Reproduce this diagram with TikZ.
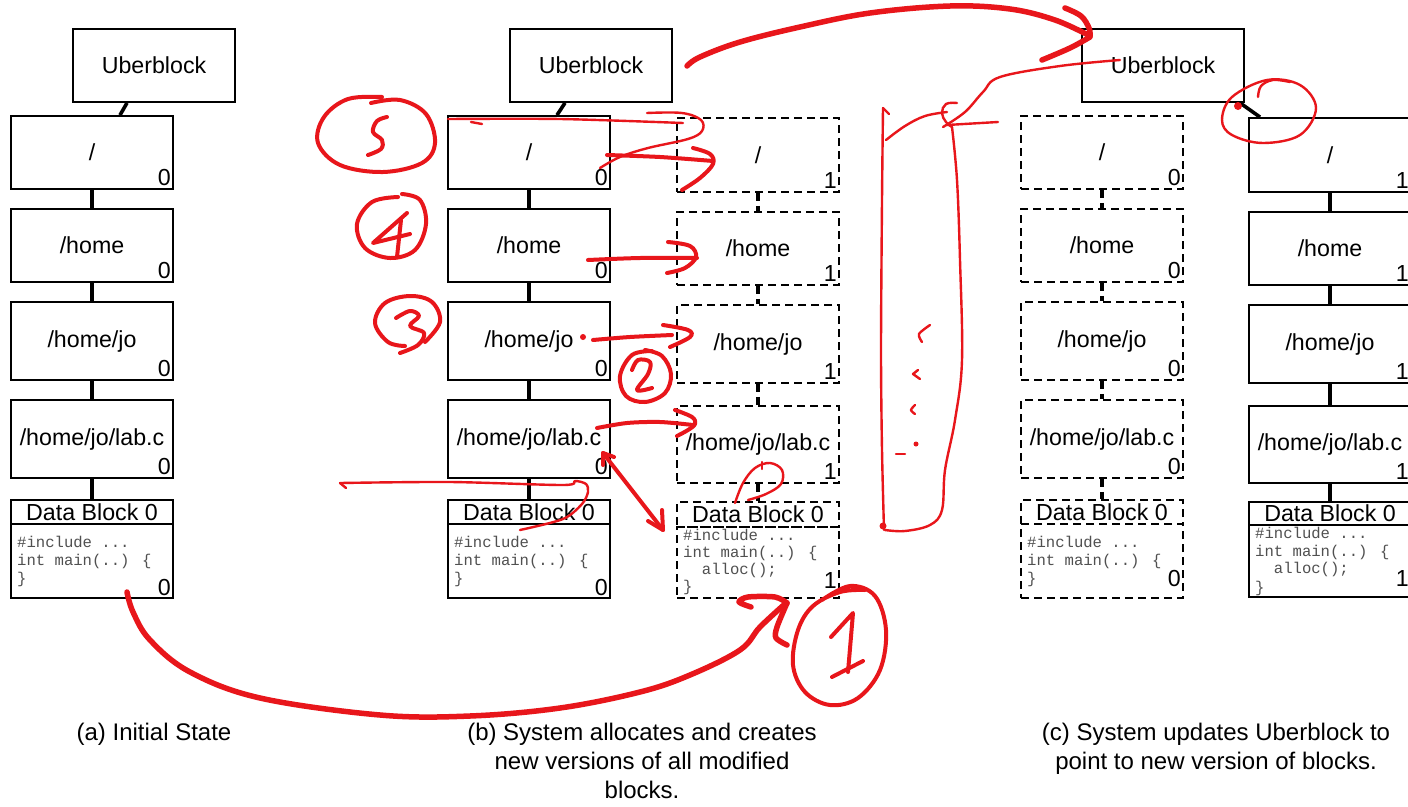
\documentclass[tikz,border=0pt]{standalone}
\usepackage{fontspec}
\setmainfont{Liberation Sans}
\newfontfamily\codefont{Liberation Mono}
\definecolor{penred}{HTML}{E8161B}
\definecolor{codegray}{HTML}{505050}
\tikzset{
 blk/.style={draw, line width=1.8pt, minimum width=162pt, inner sep=0pt, font=\fontsize{23.2}{27}\selectfont},
 dblk/.style={blk, dash pattern=on 8pt off 5pt},
 num/.style={anchor=south east, inner sep=0pt, font=\fontsize{23.2}{27}\selectfont},
 codeln/.style={anchor=base west, inner sep=0pt, text=codegray, font=\codefont\fontsize{15.6}{18}\selectfont},
 link/.style={line width=3.6pt},
 dlink/.style={link, dash pattern=on 8pt off 5pt},
 captxt/.style={anchor=base, inner sep=0pt, font=\fontsize{24}{29}\selectfont},
 pen/.style={draw=penred, line width=2.4pt, line cap=round, line join=round},
 penM/.style={pen, line width=4pt},
 penT/.style={pen, line width=5.5pt},
}
\begin{document}
\begin{tikzpicture}[x=1pt,y=-1pt]
\useasboundingbox (0,0) rectangle (1408,806);
\fill[white] (0,0) rectangle (1408,806);

% ---------- column (a)
\node[blk, minimum height=73pt] (aU) at (154,65.5) {Uberblock};
\node[blk, minimum height=73pt] (a1) at (92,152.5) {/};
\node[blk, minimum height=73pt] (a2) at (92,245.5) {/home};
\node[blk, minimum height=78pt] (a3) at (92,341) {/home/jo};
\node[blk, minimum height=78pt] (a4) at (92,439) {/home/jo/lab.c};
\node[blk, minimum height=24pt] (a5) at (92,512) {Data Block 0};
\node[blk, minimum height=74pt] (a6) at (92,561) {};
\node[num] at ([xshift=-3pt,yshift=4pt]a1.south east) {0};
\node[num] at ([xshift=-3pt,yshift=4pt]a2.south east) {0};
\node[num] at ([xshift=-3pt,yshift=4pt]a3.south east) {0};
\node[num] at ([xshift=-3pt,yshift=4pt]a4.south east) {0};
\node[num] at ([xshift=-3pt,yshift=3pt]a6.south east) {0};
\node[codeln] at (17,547) {\#include ...};
\node[codeln] at (17,565) {int main(..) \{};
\node[codeln] at (17,583) {\}};
\draw[link] ([xshift=-27pt]aU.south) -- ([xshift=28pt]a1.north);
\draw[link] (a1.south) -- (a2.north);
\draw[link] (a2.south) -- (a3.north);
\draw[link] (a3.south) -- (a4.north);
\draw[link] (a4.south) -- (a5.north);

% ---------- column (b)
\node[blk, minimum height=73pt] (bU) at (591,65.5) {Uberblock};
\node[blk, minimum height=73pt] (b1) at (529,152.5) {/};
\node[blk, minimum height=73pt] (b2) at (529,245.5) {/home};
\node[blk, minimum height=78pt] (b3) at (529,341) {/home/jo};
\node[blk, minimum height=78pt] (b4) at (529,439) {/home/jo/lab.c};
\node[blk, minimum height=24pt] (b5) at (529,512) {Data Block 0};
\node[blk, minimum height=74pt] (b6) at (529,561) {};
\node[num] at ([xshift=-3pt,yshift=4pt]b1.south east) {0};
\node[num] at ([xshift=-3pt,yshift=4pt]b2.south east) {0};
\node[num] at ([xshift=-3pt,yshift=4pt]b3.south east) {0};
\node[num] at ([xshift=-3pt,yshift=4pt]b4.south east) {0};
\node[num] at ([xshift=-3pt,yshift=3pt]b6.south east) {0};
\node[codeln] at (454,547) {\#include ...};
\node[codeln] at (454,565) {int main(..) \{};
\node[codeln] at (454,583) {\}};
\draw[link] ([xshift=-26pt]bU.south) -- ([xshift=28pt]b1.north);
\draw[link] (b1.south) -- (b2.north);
\draw[link] (b2.south) -- (b3.north);
\draw[link] (b3.south) -- (b4.north);
\draw[link] (b4.south) -- (b5.north);

% ---------- column (b') new versions, dashed
\node[dblk, minimum height=74pt] (p1) at (758,155) {/};
\node[dblk, minimum height=73pt] (p2) at (758,248.5) {/home};
\node[dblk, minimum height=78pt] (p3) at (758,344) {/home/jo};
\node[dblk, minimum height=77pt] (p4) at (758,444.5) {/home/jo/lab.c};
\node[dblk, minimum height=25pt] (p5) at (758,514.5) {Data Block 0};
\node[dblk, minimum height=71pt] (p6) at (758,562.5) {};
\node[num] at ([xshift=-3pt,yshift=4pt]p1.south east) {1};
\node[num] at ([xshift=-3pt,yshift=4pt]p2.south east) {1};
\node[num] at ([xshift=-3pt,yshift=4pt]p3.south east) {1};
\node[num] at ([xshift=-3pt,yshift=4pt]p4.south east) {1};
\node[num] at ([xshift=-3pt,yshift=10pt]p6.south east) {1};
\node[codeln] at (683,540) {\#include ...};
\node[codeln] at (683,557) {int main(..) \{};
\node[codeln] at (683,574) {\hphantom{aa}alloc();};
\node[codeln] at (683,591) {\}};
\draw[dlink] (p1.south) -- (p2.north);
\draw[dlink] (p2.south) -- (p3.north);
\draw[dlink] (p3.south) -- (p4.north);
\draw[dlink] (p4.south) -- (p5.north);

% ---------- column (c) old versions, dashed
\node[blk, minimum height=73pt] (cU) at (1163,65.5) {Uberblock};
\node[dblk, minimum height=73pt] (c1) at (1102,152.5) {/};
\node[dblk, minimum height=73pt] (c2) at (1102,245.5) {/home};
\node[dblk, minimum height=78pt] (c3) at (1102,341) {/home/jo};
\node[dblk, minimum height=78pt] (c4) at (1102,439) {/home/jo/lab.c};
\node[dblk, minimum height=24pt] (c5) at (1102,512) {Data Block 0};
\node[dblk, minimum height=74pt] (c6) at (1102,561) {};
\node[num] at ([xshift=-3pt,yshift=4pt]c1.south east) {0};
\node[num] at ([xshift=-3pt,yshift=4pt]c2.south east) {0};
\node[num] at ([xshift=-3pt,yshift=4pt]c3.south east) {0};
\node[num] at ([xshift=-3pt,yshift=4pt]c4.south east) {0};
\node[num] at ([xshift=-3pt,yshift=12pt]c6.south east) {0};
\node[codeln] at (1027,547) {\#include ...};
\node[codeln] at (1027,565) {int main(..) \{};
\node[codeln] at (1027,583) {\}};
\draw[dlink] (c1.south) -- (c2.north);
\draw[dlink] (c2.south) -- (c3.north);
\draw[dlink] (c3.south) -- (c4.north);
\draw[dlink] (c4.south) -- (c5.north);

% ---------- column (d) new tree, solid
\node[blk, minimum height=74pt] (d1) at (1330,155) {/};
\node[blk, minimum height=73pt] (d2) at (1330,248.5) {/home};
\node[blk, minimum height=78pt] (d3) at (1330,344) {/home/jo};
\node[blk, minimum height=77pt] (d4) at (1330,444.5) {/home/jo/lab.c};
\node[blk, minimum height=23pt] (d5) at (1330,513.5) {Data Block 0};
\node[blk, minimum height=72pt] (d6) at (1330,561) {};
\node[num] at ([xshift=-3pt,yshift=4pt]d1.south east) {1};
\node[num] at ([xshift=-3pt,yshift=4pt]d2.south east) {1};
\node[num] at ([xshift=-3pt,yshift=4pt]d3.south east) {1};
\node[num] at ([xshift=-3pt,yshift=4pt]d4.south east) {1};
\node[num] at ([xshift=-3pt,yshift=11pt]d6.south east) {1};
\node[codeln] at (1255,538) {\#include ...};
\node[codeln] at (1255,556) {int main(..) \{};
\node[codeln] at (1255,573) {\hphantom{aa}alloc();};
\node[codeln] at (1255,592) {\}};
\draw[link] ([xshift=77pt]cU.south) -- ([xshift=-70pt]d1.north);
\draw[link] (d1.south) -- (d2.north);
\draw[link] (d2.south) -- (d3.north);
\draw[link] (d3.south) -- (d4.north);
\draw[link] (d4.south) -- (d5.north);

% ---------- captions
\node[captxt] (capa) at (154,740) {(a) Initial State};
\node[captxt] (capb1) at (642,740) {(b) System allocates and creates};
\node[captxt] (capb2) at (642,769) {new versions of all modified};
\node[captxt] (capb3) at (642,798) {blocks.};
\node[captxt] (capc1) at (1216,740) {(c) System updates Uberblock to};
\node[captxt] (capc2) at (1216,769) {point to new version of blocks.};

% ---------- red hand annotations
% bottom big arrow
\draw[penT] plot[smooth,tension=0.6] coordinates {(127,592)(133,612)(150,640)(190,672)(260,698)(380,715)(470,716)(560,708)(640,692)(690,675)(740,650)(760,627)(786,603)};
\draw[penT] plot[smooth] coordinates {(751,607)(739,602)(748,597)(775,597)(787,603)};
\draw[penT] plot[smooth] coordinates {(787,603)(777,627)(776,638)(787,645)};
% circle 1
\draw[penM] plot[smooth,tension=0.6] coordinates {(822,600)(850,586)(875,596)(886,630)(880,670)(858,698)(830,705)(805,692)(793,665)(798,630)(813,606)(840,592)(865,590)};
\draw[penM] (831,637) -- (853,613) -- (848,672);
\draw[penM] (832,677) -- (863,661);
% circle 2
\draw[penM] plot[smooth,tension=0.6] coordinates {(652,351)(632,355)(620,376)(626,396)(645,402)(665,393)(671,374)(662,356)(645,350)};
\draw[penM] plot[smooth,tension=0.6] coordinates {(632,370)(638,360)(650,362)(648,374)(637,390)(652,388)};
% circle 3
\draw[penM] plot[smooth,tension=0.6] coordinates {(425,342)(440,322)(432,302)(410,296)(385,303)(375,323)(388,342)(405,346)};
\draw[penM] plot[smooth,tension=0.6] coordinates {(396,318)(410,311)(419,316)(410,326)(424,333)(418,345)(400,353)};
% circle 4
\draw[penM] plot[smooth,tension=0.6] coordinates {(398,197)(372,202)(357,224)(365,248)(390,258)(415,250)(426,224)(420,200)(402,194)};
\draw[penM] (407,213) -- (373,243) -- (410,234);
\draw[penM] (401,220) -- (397,257);
% circle 5
\draw[penM] plot[smooth,tension=0.6] coordinates {(382,97)(348,99)(324,117)(318,143)(340,165)(383,172)(422,163)(435,143)(426,114)(400,100)(371,103)};
\draw[penM] plot[smooth,tension=0.6] coordinates {(387,117)(377,121)(373,132)(382,140)(381,149)(368,155)};

% arrows b -> b'
\draw[pen] plot[smooth,tension=0.5] coordinates {(448,119)(560,119)(683,123)};
\draw[pen] (471,122) -- (482,124);
\draw[pen] plot[smooth,tension=0.6] coordinates {(647,113)(682,113)(701,120)(702,131)(688,139)(648,148)(620,157)(600,168)};
\draw[penM] plot[smooth,tension=0.5] coordinates {(607,155)(660,157)(713,161)};
\draw[penM] plot[smooth,tension=0.6] coordinates {(693,148)(710,154)(713,164)(700,178)(682,190)};
\draw[penM] plot[smooth,tension=0.5] coordinates {(588,260)(640,258)(697,258)};
\draw[penM] plot[smooth,tension=0.6] coordinates {(668,242)(690,246)(696,257)(685,268)(667,273)};
\fill[penred] (583,337) circle (3pt);
\draw[penM] plot[smooth,tension=0.5] coordinates {(593,340)(630,337)(672,335)};
\draw[penM] plot[smooth,tension=0.6] coordinates {(663,325)(688,330)(690,337)(670,347)};
\draw[penM] plot[smooth,tension=0.5] coordinates {(597,428)(627,423)(660,422)(693,425)};
\draw[penM] plot[smooth,tension=0.6] coordinates {(675,410)(692,417)(695,424)(688,430)(677,436)};
\draw[penM] (603,453) -- (663,530);
\draw[penM] (662,510) -- (663,530) -- (648,521);
\draw[penM] (614,457) -- (603,453) -- (603,465);
% thin loop near data block (b)
\draw[pen] plot[smooth,tension=0.5] coordinates {(340,483)(450,482)(563,485)(575,481)(586,484)(588,492)(582,504)(563,519)(520,530)};
\draw[pen] (340,483) -- (346,488);
% loop between lab.c' and data block'
\draw[pen] plot[smooth,tension=0.6] coordinates {(735,503)(743,483)(755,468)(770,463)(782,470)(781,484)(766,494)(748,500)};
\draw[pen] (762,462) -- (762,469);

% top big arrow Uberblock(b) -> Uberblock(c)
\draw[penT] plot[smooth,tension=0.6] coordinates {(687,66)(700,57)(740,42)(800,27)(870,13)(950,6)(1010,9)(1055,20)(1090,36)};
\draw[penT] plot[smooth,tension=0.6] coordinates {(1065,8)(1081,16)(1089,28)(1090,36)};
\draw[penT] plot[smooth,tension=0.6] coordinates {(1090,37)(1070,48)(1042,60)};
% thin line from Uberblock(c) and long loop
\draw[pen] plot[smooth,tension=0.6] coordinates {(1120,60)(1060,66)(1000,77)(983,92)(965,112)(943,127)};
\draw[pen] (998,122) -- (947,125);
\draw[pen] plot[smooth,tension=0.7] coordinates {(957,103)(946,104)(942,113)(946,122)(952,127)};
\draw[pen] plot[smooth,tension=0.6] coordinates {(952,127)(957,180)(960,260)(962,360)(955,420)(945,470)(942,510)(930,525)(905,531)(885,530)};
\draw[pen] plot[smooth,tension=0.5] coordinates {(883,108)(882,200)(881,350)(882,450)(884,530)};
\draw[pen] (883,108) -- (889,114);
\draw[pen] plot[smooth,tension=0.6] coordinates {(886,140)(905,126)(925,116)(947,112)};
\fill[penred] (883,526) circle (3.5pt);
\draw[pen] plot[smooth] coordinates {(930,325)(919,334)(922,342)};
\draw[pen] (918,370) -- (913,374) -- (920,379);
\draw[pen] plot[smooth] coordinates {(915,405)(911,410)(915,414)};
\fill[penred] (916,444) circle (2.5pt);
\draw[pen] (896,454) -- (905,454);
% circle around Uberblock(c) -> / connector
\draw[pen] plot[smooth cycle,tension=0.6] coordinates {(1267,80)(1300,85)(1316,108)(1300,135)(1263,143)(1232,135)(1222,120)(1232,97)};
\draw[pen] plot[smooth,tension=0.6] coordinates {(1258,97)(1261,86)(1273,80)(1290,82)};
\fill[penred] (1238,106) circle (4pt);
\end{tikzpicture}
\end{document}
